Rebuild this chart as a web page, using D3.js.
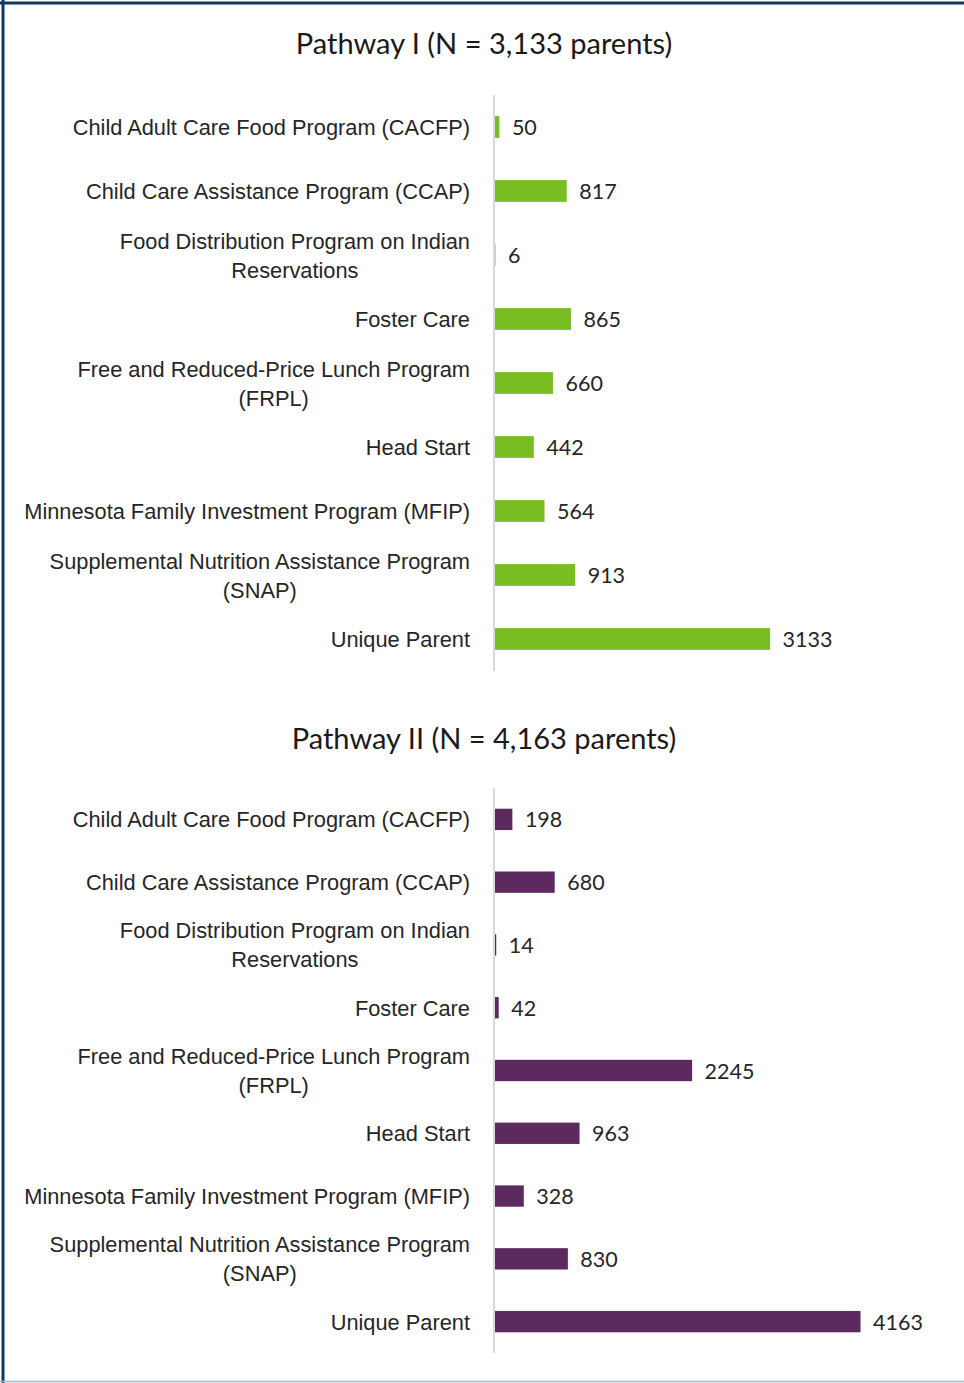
<!DOCTYPE html>
<html>
<head>
<meta charset="utf-8">
<script src="https://cdn.jsdelivr.net/npm/d3@7"></script>
<style>
  body { margin: 0; background: #fff; }
  svg { display: block; font-family: Lato, "Open Sans", sans-serif; }
</style>
</head>
<body>
<div id="chart"></div>
<script>
//categories, "\n" marks where the label wraps
const categories = [
    "Child Adult Care Food Program (CACFP)",
    "Child Care Assistance Program (CCAP)",
    "Food Distribution Program on Indian\nReservations",
    "Foster Care",
    "Free and Reduced-Price Lunch Program\n(FRPL)",
    "Head Start",
    "Minnesota Family Investment Program (MFIP)",
    "Supplemental Nutrition Assistance Program\n(SNAP)",
    "Unique Parent",
];

//parents per program
const pathway1Values = [50, 817, 6, 865, 660, 442, 564, 913, 3133];
const pathway2Values = [198, 680, 14, 42, 2245, 963, 328, 830, 4163];

const panelTitles = [
    "Pathway I (N = 3,133 parents)",
    "Pathway II (N = 4,163 parents)",
];

const width = 964;
const height = 1383;

//panels: title y, band range and bar colour
const panels = [
    { title: panelTitles[0], values: pathway1Values, titleY: 42, top: 95, bottom: 671, color: "#78bd21" },
    { title: panelTitles[1], values: pathway2Values, titleY: 737, top: 788, bottom: 1353, color: "#5c2a5e" },
];

const svg = d3
    .select("#chart")
    .append("svg")
    .attr("width", width)
    .attr("height", height);

//border
svg.append("line").attr("x1", 0).attr("x2", width).attr("y1", 3).attr("y2", 3)
    .attr("stroke", "#0d3a60").attr("stroke-width", 3);
svg.append("line").attr("x1", 3).attr("x2", 3).attr("y1", 0).attr("y2", height)
    .attr("stroke", "#0d3a60").attr("stroke-width", 3);
svg.append("line").attr("x1", 0).attr("x2", width).attr("y1", 1381.5).attr("y2", 1381.5)
    .attr("stroke", "#a9b9c6").attr("stroke-width", 1.5);

//shared value scale, both panels use the same px per parent
const x = d3.scaleLinear().domain([0, 5000]).range([495, 934]);

const labelPad = 24;

panels.forEach((p) => {
    const g = svg.append("g");

    g.append("text")
        .attr("x", 484)
        .attr("y", p.titleY)
        .attr("text-anchor", "middle")
        .attr("dominant-baseline", "central")
        .attr("font-size", 29)
        .attr("fill", "#1a1a1a")
        .text(p.title);

    const y = d3
        .scaleBand()
        .domain(categories)
        .range([p.top, p.bottom])
        .paddingInner(0.66)
        .paddingOuter(0.33);

    //bars
    g.selectAll("rect.bar")
        .data(p.values)
        .join("rect")
        .attr("class", "bar")
        .attr("x", x(0))
        .attr("y", (d, i) => y(categories[i]))
        .attr("width", (d) => x(d) - x(0))
        .attr("height", y.bandwidth())
        .attr("fill", p.color);

    //value labels
    g.selectAll("text.value")
        .data(p.values)
        .join("text")
        .attr("class", "value")
        .attr("x", (d) => x(d) + 12.5)
        .attr("y", (d, i) => y(categories[i]) + y.bandwidth() / 2)
        .attr("dominant-baseline", "central")
        .attr("font-size", 21.5)
        .attr("fill", "#262626")
        .text((d) => d);

    //category axis
    const axis = g
        .append("g")
        .attr("transform", `translate(${x(0) - 1},0)`)
        .call(d3.axisLeft(y).tickSize(0).tickPadding(labelPad));

    axis.select(".domain").attr("stroke", "#d9d9d9").attr("stroke-width", 2)
        .attr("d", `M0,${p.top}V${p.bottom}`);

    //wrapped labels: block is right aligned, lines centred inside it
    axis.selectAll(".tick text")
        .attr("font-size", 21.8)
        .attr("font-family", null)
        .attr("fill", "#262626")
        .attr("dy", null)
        .attr("dominant-baseline", "central")
        .each(function (d) {
            const lines = d.split("\n");
            const t = d3.select(this).text(null);
            const lh = 29;
            const spans = lines.map((line, k) =>
                t.append("tspan")
                    .attr("dy", k === 0 ? -((lines.length - 1) * lh) / 2 : lh)
                    .text(line)
            );
            if (lines.length > 1) {
                const w = d3.max(spans, (s) => s.node().getComputedTextLength());
                t.attr("text-anchor", "middle");
                spans.forEach((s) => s.attr("x", -labelPad - w / 2));
            } else {
                spans.forEach((s) => s.attr("x", -labelPad));
            }
        });
});
</script>
</body>
</html>
